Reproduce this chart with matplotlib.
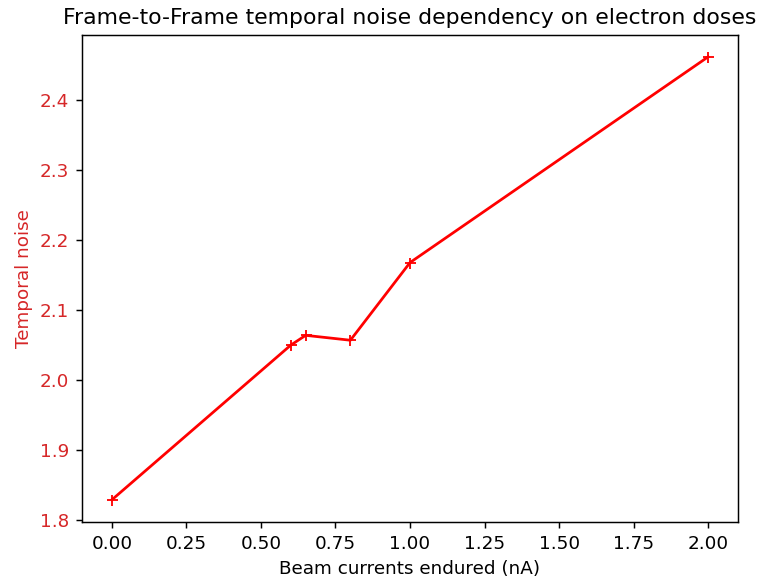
import matplotlib
matplotlib.use("Agg")
import matplotlib.pyplot as plt

# beam current (nA) vs frame-to-frame temporal noise
beam_currents = [0.0, 0.6, 0.65, 0.8, 1.0, 2.0]
temporal_noise = [1.829, 2.050, 2.064, 2.057, 2.168, 2.462]

fig, ax = plt.subplots(figsize=(760 / 132, 578 / 132), dpi=132)
fig.subplots_adjust(left=0.108, right=0.971, top=0.940, bottom=0.097)

color = 'tab:red'
ax.plot(beam_currents, temporal_noise, 'r+-')
ax.set_xlabel('Beam currents endured (nA)')
ax.set_ylabel('Temporal noise', color=color)
ax.tick_params(axis='y', labelcolor=color)
ax.set_title('Frame-to-Frame temporal noise dependency on electron doses')

fig.savefig('out.png', dpi=132)
